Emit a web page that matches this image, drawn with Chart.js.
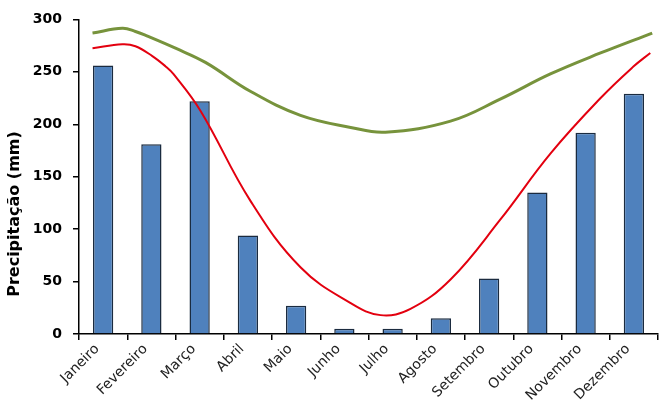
<!DOCTYPE html>
<html>
<head>
<meta charset="utf-8">
<script src="https://cdn.jsdelivr.net/npm/chart.js@4.4.0/dist/chart.umd.min.js"></script>
<style>
  html, body { margin: 0; padding: 0; background: #fff; }
  #wrap { width: 668px; height: 410px; }
</style>
</head>
<body>
<div id="wrap"><canvas id="chuva" width="668" height="410"></canvas></div>
<script>
const meses = ["Janeiro", "Fevereiro", "Março", "Abril", "Maio", "Junho",
               "Julho", "Agosto", "Setembro", "Outubro", "Novembro", "Dezembro"];
// precipitação mensal (mm)
const precipitacao = [256, 181, 222, 94, 27, 5, 5, 15, 53, 135, 192, 229];

// curvas suaves, posição em meses (0 = início de janeiro, 12 = fim de dezembro)
const verdeX = [0.28, 0.90, 1.17, 1.42, 2.0, 2.62, 3.55, 4.59, 5.63, 6.35, 7.70, 8.73, 9.77, 10.81, 11.88];
const verdeY = [287, 291.5, 288.5, 284, 272.5, 259, 231.5, 208.5, 197, 192.5, 203, 224, 248, 268, 287];
const vermelhoX = [0.28, 0.90, 1.17, 1.52, 1.79, 1.96, 2.52, 3.55, 4.59, 5.63, 6.25, 6.87, 7.70, 8.73, 9.77, 10.81, 11.49, 11.84];
const vermelhoY = [272.5, 276.3, 274.4, 265, 255.4, 247.8, 212.7, 127.2, 63.6, 29.4, 18, 24, 52, 109, 172, 225, 255, 268];

const yTicks = [0, 50, 100, 150, 200, 250, 300];
const tituloY = "Precipitação (mm)";

const pontos = (xs, ys) => xs.map((x, i) => ({x: x, y: ys[i]}));

// título do eixo y, um pouco abaixo do centro como no original
const tituloPlugin = {
    id: "tituloY",
    afterDraw(chart) {
        const c = chart.ctx;
        c.save();
        c.translate(15, 214);
        c.rotate(-Math.PI / 2);
        c.font = "bold 16px 'DejaVu Sans'";
        c.fillStyle = "#000";
        c.textAlign = "center";
        c.textBaseline = "middle";
        c.fillText(tituloY, 0, 0);
        c.restore();
    }
};

const ctx = document.getElementById("chuva");
new Chart(ctx, {
    plugins: [tituloPlugin],
    data: {
        labels: meses,
        datasets: [
            {
                type: "line",
                data: pontos(verdeX, verdeY),
                xAxisID: "x2",
                borderColor: "#77933c",
                borderWidth: 3,
                pointRadius: 0,
                tension: 0.4,
                order: 0
            },
            {
                type: "line",
                data: pontos(vermelhoX, vermelhoY),
                xAxisID: "x2",
                borderColor: "#e3000f",
                borderWidth: 2,
                pointRadius: 0,
                tension: 0.4,
                order: 1
            },
            {
                type: "bar",
                data: precipitacao,
                xAxisID: "x",
                backgroundColor: "#4f81bd",
                borderColor: "#1b2b3f",
                borderWidth: 1.5,
                grouped: false,
                categoryPercentage: 1,
                barPercentage: 0.42,
                order: 2
            }
        ]
    },
    options: {
        responsive: false,
        animation: false,
        layout: { padding: { top: 18, right: 10, left: 0, bottom: 0 } },
        plugins: {
            legend: { display: false },
            tooltip: { enabled: false }
        },
        scales: {
            x: {
                type: "category",
                offset: true,
                border: { color: "#000", width: 1.5 },
                grid: { offset: true, drawOnChartArea: false, color: "#000", tickLength: 6, lineWidth: 1.5 },
                ticks: {
                    color: "#222",
                    font: { family: "DejaVu Sans", size: 14 },
                    maxRotation: 45,
                    minRotation: 45,
                    labelOffset: -6,
                    padding: 1
                },
                afterFit: (s) => { s.height = 76; }
            },
            x2: {
                type: "linear",
                min: 0,
                max: 12,
                display: false
            },
            y: {
                min: 0,
                max: 300,
                afterBuildTicks: (s) => { s.ticks = yTicks.map(v => ({value: v})); },
                border: { color: "#000", width: 1.5 },
                grid: { drawOnChartArea: false, color: "#000", tickLength: 6, lineWidth: 1.5 },
                ticks: {
                    color: "#000",
                    font: { family: "DejaVu Sans", size: 14, weight: "bold" },
                    padding: 11
                },
                afterFit: (s) => { s.width = 79; }
            }
        }
    }
});
</script>
</body>
</html>
